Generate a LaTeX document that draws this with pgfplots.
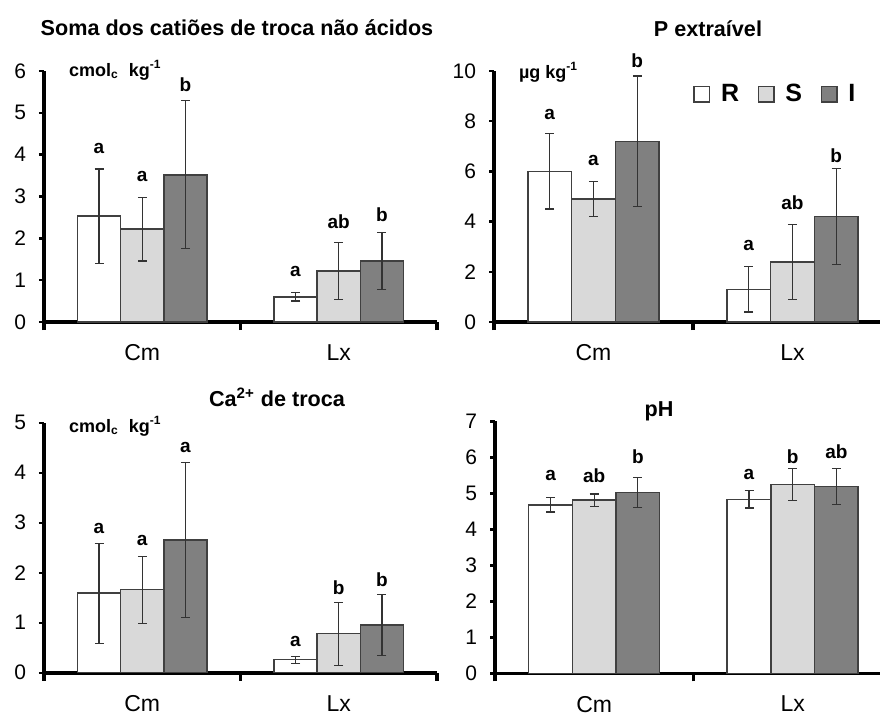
\documentclass[border=0pt]{standalone}
\usepackage{fontspec}
\setmainfont{Liberation Sans}
\usepackage{pgfplots}
\usepackage{pgfplotstable}
\pgfplotsset{compat=1.18}

\definecolor{sfill}{HTML}{D9D9D9}
\definecolor{ifill}{HTML}{808080}
\definecolor{edge}{HTML}{404040}

\newcommand{\ttl}{\bfseries\fontsize{10.8}{12}\selectfont}
\newcommand{\unt}{\bfseries\fontsize{9}{10}\selectfont}

% columns: x, R mean, R err, S mean, S err, I mean, I err
\pgfplotstableread{
x R Re S Se I Ie
0 2.53 1.13 2.22 0.76 3.52 1.77
1 0.60 0.10 1.22 0.68 1.46 0.68
}\tabA
\pgfplotstableread{
x R Re S Se I Ie
0 6.0 1.5 4.9 0.7 7.2 2.6
1 1.3 0.9 2.4 1.5 4.2 1.9
}\tabB
\pgfplotstableread{
x R Re S Se I Ie
0 1.59 1.00 1.66 0.67 2.65 1.55
1 0.26 0.07 0.78 0.63 0.95 0.61
}\tabC
\pgfplotstableread{
x R Re S Se I Ie
0 4.68 0.20 4.81 0.17 5.02 0.41
1 4.83 0.24 5.24 0.45 5.19 0.50
}\tabD

\tikzset{lett/.style={font=\bfseries\fontsize{9.5}{10}\selectfont, inner sep=0pt}}

\pgfplotsset{
 panel/.style={
   scale only axis,
   ybar=0pt, bar width=0.22,
   enlargelimits=false,
   axis x line=bottom, axis y line=left,
   axis line style={-, line width=1.8pt, black},
   xmin=-0.5, ymin=0,
   xtick={0,1}, xticklabels={Cm,Lx},
   minor xtick={-0.5,0.5,1.5},
   major x tick style={draw=none},
   minor x tick style={line width=1.8pt, black},
   minor tick length=4pt,
   ytick style={line width=1.2pt, black},
   major tick length=2.5pt,
   tick align=outside,
   clip=false,
   /pgf/number format/assume math mode=true,
   yticklabel style={font=\fontsize{10.5}{11}\selectfont, xshift=-3pt},
   xticklabel style={font=\fontsize{11.5}{12}\selectfont, yshift=-5.3pt},
   every axis plot/.append style={draw=edge, line width=0.75pt},
   error bars/y dir=both, error bars/y explicit,
   error bars/error bar style={line width=0.6pt, black!80},
   error bars/error mark options={rotate=90, mark size=2.25pt, line width=0.6pt, black!80},
 },
}

\begin{document}
\begin{tikzpicture}
\useasboundingbox (0,0) rectangle (440pt,357pt);

% ---------- top left ----------
\begin{axis}[panel, at={(22pt,196pt)}, anchor=south west,
  width=196.5pt, height=125.5pt, xmax=1.5, ymax=6, ytick={0,1,...,6}]
\addplot[fill=white] table[x=x,y=R,y error=Re]{\tabA};
\addplot[fill=sfill] table[x=x,y=S,y error=Se]{\tabA};
\addplot[fill=ifill] table[x=x,y=I,y error=Ie]{\tabA};
\node[lett] at (axis cs:-0.22,4.16) {a};
\node[lett] at (axis cs:0,3.47) {a};
\node[lett] at (axis cs:0.22,5.67) {b};
\node[lett] at (axis cs:0.78,1.2) {a};
\node[lett] at (axis cs:1,2.4) {ab};
\node[lett] at (axis cs:1.22,2.56) {b};
\end{axis}

% ---------- top right ----------
\begin{axis}[panel, at={(247pt,196pt)}, anchor=south west,
  width=193pt, height=125.5pt, xmax=1.44, ymax=10, ytick={0,2,...,10},
  legend columns=3,
  legend style={at={(0.5155,0.908)}, anchor=west, draw=none, fill=none, inner sep=0pt,
    font=\bfseries\fontsize{12.5}{12.5}\selectfont,
    /tikz/every odd column/.append style={column sep=3.3pt},
    /tikz/every even column/.append style={column sep=7.3pt}},
  legend image code/.code={\draw[#1, line width=0.75pt] (0pt,-3.9pt) rectangle (7.8pt,3.9pt);}]
\addplot[fill=white] table[x=x,y=R,y error=Re]{\tabB};
\addlegendentry{R}
\addplot[fill=sfill] table[x=x,y=S,y error=Se]{\tabB};
\addlegendentry{S}
\addplot[fill=ifill] table[x=x,y=I,y error=Ie]{\tabB};
\addlegendentry{I}
\node[lett] at (axis cs:-0.22,8.25) {a};
\node[lett] at (axis cs:0,6.45) {a};
\node[lett] at (axis cs:0.22,10.4) {b};
\node[lett] at (axis cs:0.78,3.03) {a};
\node[lett] at (axis cs:1,4.75) {ab};
\node[lett] at (axis cs:1.22,6.63) {b};
\end{axis}

% ---------- bottom left ----------
\begin{axis}[panel, at={(22pt,20.65pt)}, anchor=south west,
  width=196.5pt, height=125pt, xmax=1.5, ymax=5, ytick={0,1,...,5}]
\addplot[fill=white] table[x=x,y=R,y error=Re]{\tabC};
\addplot[fill=sfill] table[x=x,y=S,y error=Se]{\tabC};
\addplot[fill=ifill] table[x=x,y=I,y error=Ie]{\tabC};
\node[lett] at (axis cs:-0.22,2.89) {a};
\node[lett] at (axis cs:0,2.65) {a};
\node[lett] at (axis cs:0.22,4.51) {a};
\node[lett] at (axis cs:0.78,0.63) {a};
\node[lett] at (axis cs:1,1.70) {b};
\node[lett] at (axis cs:1.22,1.85) {b};
\end{axis}

% ---------- bottom right ----------
\begin{axis}[panel, at={(247.5pt,20.35pt)}, anchor=south west,
  width=192.5pt, height=126pt, xmax=1.44, ymax=7, ytick={0,1,...,7}]
\addplot[fill=white] table[x=x,y=R,y error=Re]{\tabD};
\addplot[fill=sfill] table[x=x,y=S,y error=Se]{\tabD};
\addplot[fill=ifill] table[x=x,y=I,y error=Ie]{\tabD};
\node[lett] at (axis cs:-0.22,5.50) {a};
\node[lett] at (axis cs:0,5.50) {ab};
\node[lett] at (axis cs:0.22,6.03) {b};
\node[lett] at (axis cs:0.78,5.51) {a};
\node[lett] at (axis cs:1,6.03) {b};
\node[lett] at (axis cs:1.22,6.15) {ab};
\end{axis}

% ---------- titles and units ----------
\node[font=\ttl] at (118.5pt,343pt) {Soma dos catiões de troca não ácidos};
\node[font=\ttl] at (354pt,342.5pt) {P extraível};
\node[font=\ttl] at (138.5pt,158.5pt) {Ca\textsuperscript{2+} de troca};
\node[font=\ttl] at (329.5pt,151.5pt) {pH};
\node[anchor=west, font=\unt] at (31pt,322pt) {cmol\textsubscript{c}\ \ kg\textsuperscript{-1}};
\node[anchor=west, font=\unt] at (256pt,321pt) {µg kg\textsuperscript{-1}};
\node[anchor=west, font=\unt] at (31pt,144pt) {cmol\textsubscript{c}\ \ kg\textsuperscript{-1}};
\end{tikzpicture}
\end{document}
